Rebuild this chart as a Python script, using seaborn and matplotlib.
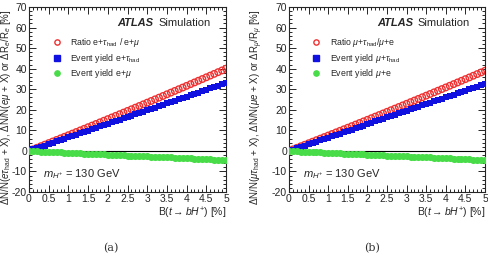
import numpy as np
import pandas as pd
import seaborn as sns
import matplotlib.pyplot as plt
from matplotlib.ticker import MultipleLocator, FuncFormatter
from matplotlib.lines import Line2D

# B(t -> bH+) in %
br = [round(0.1 * i, 1) for i in range(51)]

# panel (a): e channel
ratio_a = [0.0, 0.76, 1.5, 2.27, 3.03, 3.8, 4.56, 5.33, 6.1, 6.87, 7.64,
           8.41, 9.19, 9.97, 10.75, 11.53, 12.31, 13.1, 13.88, 14.67, 15.46,
           16.25, 17.05, 17.84, 18.64, 19.44, 20.24, 21.04, 21.85, 22.65, 23.46,
           24.27, 25.08, 25.9, 26.71, 27.53, 28.35, 29.17, 30.0, 30.81, 31.64,
           32.47, 33.3, 34.13, 34.96, 35.8, 36.63, 37.47, 38.31, 39.15, 40.0]
yield_tau_a = [0.0, 0.7, 1.3, 2.0, 2.6, 3.3, 4.0, 4.6, 5.3, 5.9, 6.6,
               7.3, 7.9, 8.6, 9.2, 9.9, 10.6, 11.2, 11.9, 12.5, 13.2,
               13.9, 14.5, 15.2, 15.8, 16.5, 17.2, 17.8, 18.5, 19.1, 19.8,
               20.5, 21.1, 21.8, 22.4, 23.1, 23.8, 24.4, 25.1, 25.7, 26.4,
               27.1, 27.7, 28.4, 29.0, 29.7, 30.4, 31.0, 31.7, 32.3, 33.0]
yield_lep_a = [0.0, -0.1, -0.2, -0.3, -0.4, -0.5, -0.5, -0.6, -0.7, -0.8, -0.9,
               -1.0, -1.1, -1.2, -1.3, -1.4, -1.4, -1.5, -1.6, -1.7, -1.8,
               -1.9, -2.0, -2.1, -2.2, -2.3, -2.3, -2.4, -2.5, -2.6, -2.7,
               -2.8, -2.9, -3.0, -3.1, -3.2, -3.2, -3.3, -3.4, -3.5, -3.6,
               -3.7, -3.8, -3.9, -4.0, -4.1, -4.1, -4.2, -4.3, -4.4, -4.5]

# panel (b): mu channel
ratio_b = [0.0, 0.74, 1.48, 2.23, 2.97, 3.72, 4.47, 5.22, 5.97, 6.73, 7.48,
           8.24, 9.0, 9.76, 10.52, 11.28, 12.04, 12.81, 13.58, 14.35, 15.12,
           15.89, 16.67, 17.44, 18.22, 19.0, 19.78, 20.56, 21.35, 22.13, 22.92,
           23.71, 24.5, 25.29, 26.08, 26.88, 27.68, 28.48, 29.28, 30.08, 30.88,
           31.68, 32.49, 33.3, 34.11, 34.92, 35.73, 36.55, 37.36, 38.18, 39.0]
yield_tau_b = [0.0, 0.65, 1.3, 1.95, 2.6, 3.25, 3.9, 4.55, 5.2, 5.85, 6.5,
               7.15, 7.8, 8.45, 9.1, 9.75, 10.4, 11.05, 11.7, 12.35, 13.0,
               13.65, 14.3, 14.95, 15.6, 16.25, 16.9, 17.55, 18.2, 18.85, 19.5,
               20.15, 20.8, 21.45, 22.1, 22.75, 23.4, 24.05, 24.7, 25.35, 26.0,
               26.65, 27.3, 27.95, 28.6, 29.25, 29.9, 30.55, 31.2, 31.85, 32.5]
yield_lep_b = [0.0, -0.1, -0.2, -0.3, -0.4, -0.5, -0.5, -0.6, -0.7, -0.8, -0.9,
               -1.0, -1.1, -1.2, -1.3, -1.4, -1.4, -1.5, -1.6, -1.7, -1.8,
               -1.9, -2.0, -2.1, -2.2, -2.3, -2.3, -2.4, -2.5, -2.6, -2.7,
               -2.8, -2.9, -3.0, -3.1, -3.2, -3.2, -3.3, -3.4, -3.5, -3.6,
               -3.7, -3.8, -3.9, -4.0, -4.1, -4.1, -4.2, -4.3, -4.4, -4.5]

labels_a = [r"Ratio e+$\tau_{\rm had}$ / e+$\mu$",
            r"Event yield e+$\tau_{\rm had}$",
            r"Event yield e+$\mu$"]
labels_b = [r"Ratio $\mu$+$\tau_{\rm had}$/$\mu$+e",
            r"Event yield $\mu$+$\tau_{\rm had}$",
            r"Event yield $\mu$+e"]
ylabel_a = r"$\Delta$N/N($e\tau_{\rm had}$ + X), $\Delta$N/N($e\mu$ + X) or $\Delta$R$_e$/R$_e$ [%]"
ylabel_b = r"$\Delta$N/N($\mu\tau_{\rm had}$ + X), $\Delta$N/N($\mu e$ + X) or $\Delta$R$_\mu$/R$_\mu$ [%]"

sns.set_theme(style="ticks")
plt.rcParams["font.family"] = ["Liberation Sans", "DejaVu Sans"]
plt.rcParams["mathtext.fontset"] = "custom"
plt.rcParams["mathtext.rm"] = "Liberation Sans"
plt.rcParams["mathtext.it"] = "Liberation Sans:italic"
plt.rcParams["mathtext.bf"] = "Liberation Sans:bold"

RED = "#f03030"
BLUE = "#1010e0"
GREEN = "#48dc48"

fig = plt.figure(figsize=(4.88, 2.71), dpi=100)
ax_a = fig.add_axes([29 / 488, 1 - 192 / 271, 197 / 488, 185 / 271])
ax_b = fig.add_axes([289 / 488, 1 - 192 / 271, 196 / 488, 185 / 271])


def draw_panel(ax, ratio, ytau, ylep, labels, ylabel, ylab_x):
    df = pd.DataFrame({"br": br, "ratio": ratio, "ytau": ytau, "ylep": ylep})
    ax.axhline(0, color="black", lw=0.8, zorder=1)
    sns.scatterplot(data=df, x="br", y="ratio", ax=ax, marker="o", s=22,
                    facecolor="none", edgecolor=RED, linewidth=1.0, zorder=3)
    sns.scatterplot(data=df, x="br", y="ytau", ax=ax, marker="s", s=24,
                    color=BLUE, edgecolor=BLUE, linewidth=0, zorder=4)
    sns.scatterplot(data=df, x="br", y="ylep", ax=ax, marker="o", s=26,
                    color=GREEN, edgecolor=GREEN, linewidth=0, zorder=5)
    ax.set_xlim(0, 5)
    ax.set_ylim(-20, 70)
    ax.xaxis.set_major_locator(MultipleLocator(0.5))
    ax.xaxis.set_minor_locator(MultipleLocator(0.1))
    ax.yaxis.set_major_locator(MultipleLocator(10))
    ax.yaxis.set_minor_locator(MultipleLocator(2))
    ax.xaxis.set_major_formatter(FuncFormatter(lambda v, p: f"{v:g}"))
    ax.yaxis.set_major_formatter(FuncFormatter(lambda v, p: f"{v:g}"))
    ax.tick_params(which="both", direction="in", top=True, right=True,
                   labelsize=7.5, pad=1.5, width=0.7)
    ax.tick_params(which="major", length=5)
    ax.tick_params(which="minor", length=2.5)
    for sp in ax.spines.values():
        sp.set_linewidth(0.8)
    ax.set_xlabel(r"B($t \rightarrow bH^{+}$) [%]", fontsize=7.5, loc="right", labelpad=1)
    ax.set_ylabel(ylabel, fontsize=7.0)
    ax.yaxis.set_label_coords(ylab_x, 0.46)

    handles = [
        Line2D([], [], ls="", marker="o", ms=3.8, mfc="none", mec=RED, mew=1.0),
        Line2D([], [], ls="", marker="s", ms=3.8, color=BLUE),
        Line2D([], [], ls="", marker="o", ms=3.8, color=GREEN),
    ]
    ax.legend(handles, labels, loc="upper left", bbox_to_anchor=(0.10, 0.86),
              frameon=False, fontsize=6.3, handletextpad=1.0, labelspacing=0.28,
              handlelength=1.0, borderaxespad=0)
    ax.text(0.45, 0.915, "ATLAS", transform=ax.transAxes, fontsize=8,
            fontweight="bold", fontstyle="italic", va="center")
    ax.text(0.655, 0.915, "Simulation", transform=ax.transAxes, fontsize=8,
            va="center")
    ax.text(0.07, 0.095, r"$m_{H^{+}}$ = 130 GeV", transform=ax.transAxes,
            fontsize=8, va="center")


draw_panel(ax_a, ratio_a, yield_tau_a, yield_lep_a, labels_a, ylabel_a, -0.08)
draw_panel(ax_b, ratio_b, yield_tau_b, yield_lep_b, labels_b, ylabel_b, -0.12)

fig.text(111 / 488, 1 - 248 / 271, "(a)", family="DejaVu Serif", fontsize=8,
         color="#333333", ha="center", va="center")
fig.text(372 / 488, 1 - 248 / 271, "(b)", family="DejaVu Serif", fontsize=8,
         color="#333333", ha="center", va="center")

fig.savefig("out.png", dpi=100)
